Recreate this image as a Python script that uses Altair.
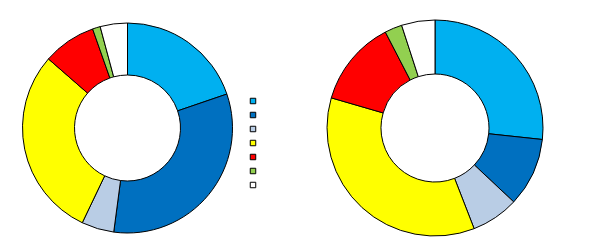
import altair as alt
import pandas as pd

categories = ["Cat 1", "Cat 2", "Cat 3", "Cat 4", "Cat 5", "Cat 6", "Cat 7"]
colors = ["#00B0F0", "#0070C0", "#B9CDE5", "#FFFF00", "#FF0000", "#92D050", "#FFFFFF"]
left_values = [19.8, 32.4, 5.0, 29.4, 8.2, 1.2, 4.2]
right_values = [26.7, 10.3, 7.1, 35.4, 12.9, 2.6, 5.0]

left_df = pd.DataFrame({"category": categories, "value": left_values, "order": list(range(len(categories)))})
right_df = pd.DataFrame({"category": categories, "value": right_values, "order": list(range(len(categories)))})

color = alt.Color(
    "category:N",
    scale=alt.Scale(domain=categories, range=colors),
    legend=alt.Legend(
        title=None,
        orient="none",
        legendX=248,
        legendY=96,
        symbolType="square",
        symbolSize=30,
        symbolStrokeColor="black",
        symbolStrokeWidth=1,
        labelExpr="''",
        labelFontSize=10,
        rowPadding=4,
        padding=0,
    ),
)

def donut(df, cx, cy, outer, inner):
    return alt.Chart(df).mark_arc(
        outerRadius=outer, innerRadius=inner, stroke="black", strokeWidth=1
    ).encode(
        theta=alt.Theta("value:Q", stack=True),
        order=alt.Order("order:Q"),
        color=color,
        x=alt.value(cx),
        y=alt.value(cy),
    )

left = donut(left_df, 127.5, 128, 105, 53)
right = donut(right_df, 435, 128, 108, 54)

chart = alt.layer(left, right).resolve_scale(theta="independent").properties(
    width=596,
    height=248,
    autosize=alt.AutoSizeParams(type="none"),
    padding=0,
    background="white",
).configure_view(stroke=None)

chart.save("out.html", embed_options={"renderer": "svg", "actions": False})
